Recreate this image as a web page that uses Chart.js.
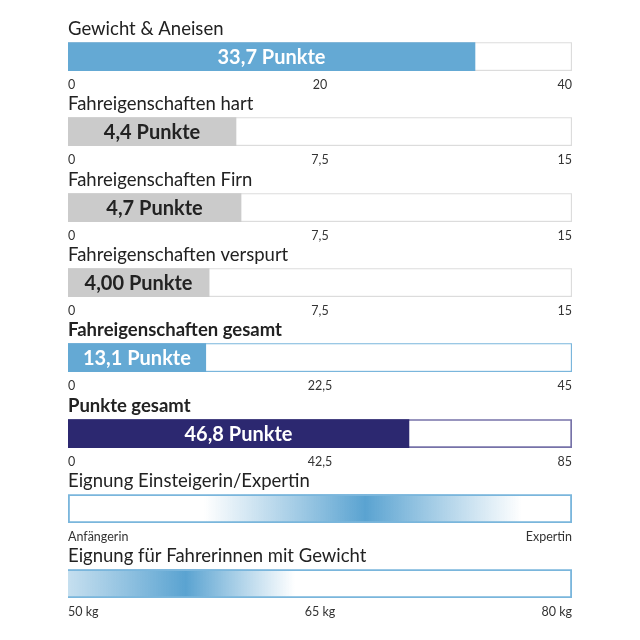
<!DOCTYPE html>
<html lang="de">
<head>
<meta charset="UTF-8">
<title>Testergebnis</title>
<script src="https://cdn.jsdelivr.net/npm/chart.js"></script>
<style>
  html, body { margin: 0; padding: 0; background: #fff; }
  #wrap { position: relative; width: 640px; height: 640px; }
  #wrap canvas { position: absolute; left: 0; }
</style>
</head>
<body>
<div id="wrap"></div>
<script>
// --- data ---
const panelTitles = [
  'Gewicht & Aneisen',
  'Fahreigenschaften hart',
  'Fahreigenschaften Firn',
  'Fahreigenschaften verspurt',
  'Fahreigenschaften gesamt',
  'Punkte gesamt',
  'Eignung Einsteigerin/Expertin',
  'Eignung für Fahrerinnen mit Gewicht'
];
const scaleMax = [40, 15, 15, 15, 45, 85];
const barValues = [32.3, 5.0, 5.15, 4.2, 12.3, 57.5];   // bar length as drawn
const barLabels = ['33,7 Punkte', '4,4 Punkte', '4,7 Punkte', '4,00 Punkte', '13,1 Punkte', '46,8 Punkte'];
const tickLabels = [
  ['0', '20', '40'],
  ['0', '7,5', '15'],
  ['0', '7,5', '15'],
  ['0', '7,5', '15'],
  ['0', '22,5', '45'],
  ['0', '42,5', '85']
];
const levelTicks = [0, 1];
const levelLabels = ['Anfängerin', 'Expertin'];
const levelFit = [0.27, 0.59, 0.9];      // fade in, peak, fade out
const weightTicks = [50, 65, 80];
const weightLabels = ['50 kg', '65 kg', '80 kg'];
const weightFit = [46, 57, 63.5];        // kg: fade in, peak, fade out

// --- styles ---
const FONT = 'Lato, "Noto Sans", sans-serif';
const BLUE = '#64a9d4';
const panelStyles = [
  { fill: BLUE,      frame: '#dcdcdc', text: '#ffffff', bw: 1.5 },
  { fill: '#cbcbcb', frame: '#dcdcdc', text: '#222222', bw: 1.5 },
  { fill: '#cbcbcb', frame: '#dcdcdc', text: '#222222', bw: 1.5 },
  { fill: '#cbcbcb', frame: '#dcdcdc', text: '#222222', bw: 1.5 },
  { fill: BLUE,      frame: '#7ab6dc', text: '#ffffff', bw: 1.5 },
  { fill: '#2c2870', frame: '#7672a8', text: '#ffffff', bw: 2 }
];

const barLabelPlugin = {
  id: 'barLabel',
  afterDatasetsDraw(chart, args, opts) {
    if (!opts.text) return;
    const bar = chart.getDatasetMeta(1).data[0];
    const ctx = chart.ctx;
    ctx.save();
    ctx.font = 'bold 20px ' + FONT;
    ctx.fillStyle = opts.color;
    ctx.textAlign = 'center';
    ctx.textBaseline = 'middle';
    ctx.fillText(opts.text, (bar.base + bar.x) / 2, bar.y + 1);
    ctx.restore();
  }
};

function fixedTicks(values, labels) {
  return {
    afterBuildTicks(scale) { scale.ticks = values.map(v => ({ value: v })); },
    ticks: {
      autoSkip: false, maxRotation: 0, align: 'inner', padding: 6, color: '#333',
      font: { family: FONT, size: 12.5 },
      callback: (v, idx) => labels[idx]
    }
  };
}

function makeChart(i, datasets, xScale, label) {
  const canvas = document.createElement('canvas');
  canvas.width = 640;
  canvas.height = 83;
  canvas.style.top = Math.round(16 + i * 75.3) + 'px';
  document.getElementById('wrap').appendChild(canvas);
  const bold = i === 4 || i === 5;
  return new Chart(canvas, {
    type: 'bar',
    data: { labels: [''], datasets: datasets },
    plugins: [barLabelPlugin],
    options: {
      indexAxis: 'y',
      responsive: false,
      animation: false,
      devicePixelRatio: 1,
      layout: { padding: { left: 68, right: 68, top: 0, bottom: 1 } },
      datasets: { bar: { grouped: false, barPercentage: 1, categoryPercentage: 1, borderSkipped: false } },
      scales: {
        x: Object.assign({
          type: 'linear',
          grid: { display: false, drawTicks: false },
          border: { display: false }
        }, xScale),
        y: { display: false }
      },
      plugins: {
        legend: { display: false },
        tooltip: { enabled: false },
        title: {
          display: true,
          text: panelTitles[i],
          align: 'start',
          color: '#222',
          padding: { top: 2, bottom: 2 },
          font: { family: FONT, size: 18.5, weight: bold ? 'bold' : 'normal' }
        },
        barLabel: label || {}
      }
    }
  });
}

// score panels
scaleMax.forEach((max, i) => {
  const st = panelStyles[i];
  makeChart(i, [
    { data: [max], backgroundColor: '#fff', borderColor: st.frame, borderWidth: st.bw, order: 2 },
    { data: [barValues[i]], backgroundColor: st.fill, borderWidth: 0, order: 1 }
  ], Object.assign({ min: 0, max: max }, fixedTicks([0, max / 2, max], tickLabels[i])),
  { text: barLabels[i], color: st.text });
});

// gradient panels
function fadeFill(fit) {
  return (ctx) => {
    const chart = ctx.chart;
    if (!chart.chartArea) return BLUE;
    const xs = chart.scales.x;
    const x0 = xs.getPixelForValue(fit[0]);
    const x1 = xs.getPixelForValue(fit[2]);
    const g = chart.ctx.createLinearGradient(x0, 0, x1, 0);
    g.addColorStop(0, 'rgba(100,169,212,0)');
    g.addColorStop((fit[1] - fit[0]) / (fit[2] - fit[0]), 'rgba(90,163,209,1)');
    g.addColorStop(1, 'rgba(100,169,212,0)');
    return g;
  };
}

function gradientPanel(i, min, max, fit, ticks, labels) {
  makeChart(i, [
    { data: [[Math.max(min, fit[0]), fit[2]]], backgroundColor: fadeFill(fit), borderWidth: 0, order: 2 },
    { data: [max], backgroundColor: 'rgba(0,0,0,0)', borderColor: '#7ab6dc', borderWidth: 1.5, order: 1 }
  ], Object.assign({ min: min, max: max }, fixedTicks(ticks, labels)));
}

gradientPanel(6, 0, 1, levelFit, levelTicks, levelLabels);
gradientPanel(7, 50, 80, weightFit, weightTicks, weightLabels);
</script>
</body>
</html>
